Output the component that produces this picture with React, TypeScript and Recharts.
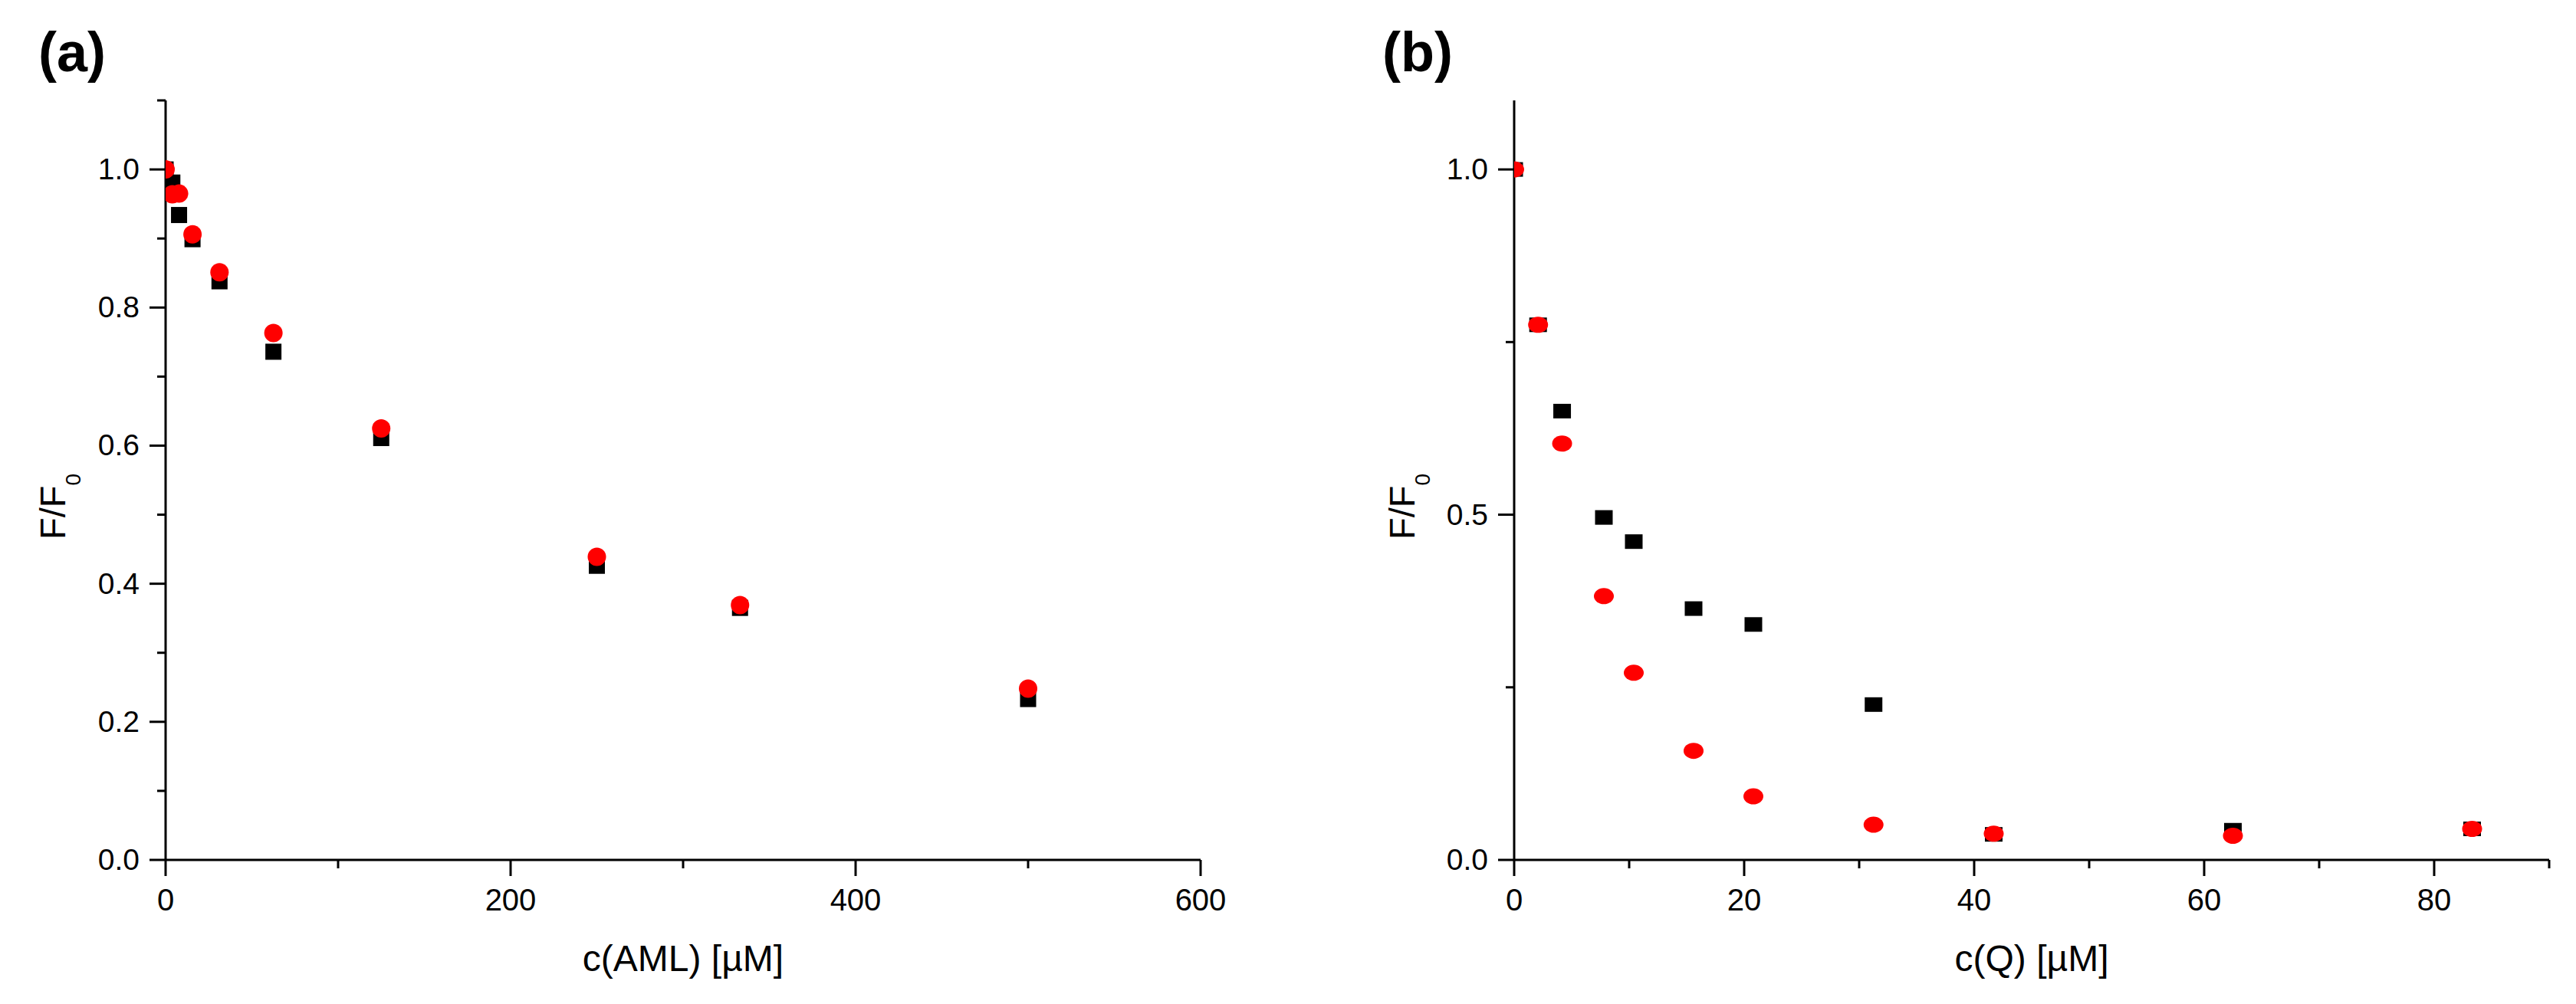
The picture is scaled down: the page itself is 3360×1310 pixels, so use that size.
import { Scatter, ScatterChart, XAxis, YAxis } from 'recharts';

// panel (a): AML titration
const concAML = [0, 3.9, 7.8, 15.6, 31.25, 62.5, 125, 250, 333, 500];
const blackAML = [1.0, 0.981, 0.934, 0.899, 0.838, 0.736, 0.611, 0.426, 0.365, 0.233];
const redAML = [1.0, 0.964, 0.965, 0.906, 0.851, 0.763, 0.625, 0.439, 0.369, 0.248];

// panel (b): Q titration
const concQ = [0, 2.08, 4.17, 7.8, 10.4, 15.6, 20.8, 31.25, 41.7, 62.5, 83.3];
const blackQ = [1.0, 0.775, 0.65, 0.496, 0.461, 0.364, 0.341, 0.225, 0.037, 0.043, 0.045];
const redQ = [1.0, 0.775, 0.603, 0.382, 0.271, 0.158, 0.092, 0.051, 0.038, 0.035, 0.045];

// axis ticks
const xTicksA = [0, 100, 200, 300, 400, 500, 600];
const xMajorA = [0, 200, 400, 600];
const yTicksA = [0, 0.1, 0.2, 0.3, 0.4, 0.5, 0.6, 0.7, 0.8, 0.9, 1.0, 1.1];
const yMajorA = [0, 0.2, 0.4, 0.6, 0.8, 1.0];
const xTicksB = [0, 10, 20, 30, 40, 50, 60, 70, 80, 90];
const xMajorB = [0, 20, 40, 60, 80];
const yTicksB = [0, 0.25, 0.5, 0.75, 1.0];
const yMajorB = [0, 0.5, 1.0];

const FONT = '"Liberation Sans", Arial, sans-serif';

const toPoints = (xs: number[], ys: number[]) => xs.map((x, i) => ({ x, y: ys[i] }));

const makeXTick = (majors: number[]) => (props: any) => {
  const { x, y, payload } = props;
  const major = majors.includes(payload.value);
  return (
    <g>
      <line x1={x} x2={x} y1={y} y2={y + (major ? 21 : 11)} stroke="#000" strokeWidth={3} />
      {major && (
        <text x={x} y={y + 66} textAnchor="middle" fontSize={40} fill="#000" fontFamily={FONT}>
          {payload.value}
        </text>
      )}
    </g>
  );
};

const makeYTick = (majors: number[]) => (props: any) => {
  const { x, y, payload } = props;
  const major = majors.includes(payload.value);
  return (
    <g>
      <line x1={x} x2={x - (major ? 21 : 11)} y1={y} y2={y} stroke="#000" strokeWidth={3} />
      {major && (
        <text x={x - 34} y={y + 13} textAnchor="end" fontSize={39} fill="#000" fontFamily={FONT}>
          {Number(payload.value).toFixed(1)}
        </text>
      )}
    </g>
  );
};

const squareShape = (w: number, h: number) => (props: any) => {
  const { cx, cy } = props;
  return <rect x={cx - w / 2} y={cy - h / 2} width={w} height={h} fill="#000" />;
};

const circleShape = (rx: number, ry: number) => (props: any) => {
  const { cx, cy } = props;
  return <ellipse cx={cx} cy={cy} rx={rx} ry={ry} fill="#ff0000" />;
};

interface PanelProps {
  left: number;
  marginLeft: number;
  marginRight: number;
  xDomain: [number, number];
  xTicks: number[];
  xMajor: number[];
  yTicks: number[];
  yMajor: number[];
  black: { x: number; y: number }[];
  red: { x: number; y: number }[];
  squareW: number;
  squareH: number;
  dotRx: number;
  dotRy: number;
}

function Panel(p: PanelProps) {
  return (
    <div style={{ position: 'absolute', left: p.left, top: 0 }}>
      <ScatterChart
        width={1680}
        height={1310}
        margin={{ top: 131, right: p.marginRight, left: p.marginLeft, bottom: 108 }}
      >
        <XAxis
          type="number"
          dataKey="x"
          domain={p.xDomain}
          ticks={p.xTicks}
          interval={0}
          allowDataOverflow
          height={80}
          tickSize={0}
          tickMargin={0}
          tickLine={false}
          axisLine={{ stroke: '#000', strokeWidth: 3 }}
          tick={makeXTick(p.xMajor)}
        />
        <YAxis
          type="number"
          dataKey="y"
          domain={[0, 1.1]}
          ticks={p.yTicks}
          interval={0}
          allowDataOverflow
          width={100}
          tickSize={0}
          tickMargin={0}
          tickLine={false}
          axisLine={{ stroke: '#000', strokeWidth: 3 }}
          tick={makeYTick(p.yMajor)}
        />
        <Scatter
          name="black"
          data={p.black}
          shape={squareShape(p.squareW, p.squareH)}
          isAnimationActive={false}
        />
        <Scatter
          name="red"
          data={p.red}
          shape={circleShape(p.dotRx, p.dotRy)}
          isAnimationActive={false}
        />
      </ScatterChart>
    </div>
  );
}

export default function App() {
  return (
    <div
      style={{
        position: 'absolute',
        left: 0,
        top: 0,
        width: 3360,
        height: 1310,
        background: '#fff',
        overflow: 'hidden',
      }}
    >
      <Panel
        left={0}
        marginLeft={116}
        marginRight={114}
        xDomain={[0, 600]}
        xTicks={xTicksA}
        xMajor={xMajorA}
        yTicks={yTicksA}
        yMajor={yMajorA}
        black={toPoints(concAML, blackAML)}
        red={toPoints(concAML, redAML)}
        squareW={21}
        squareH={21}
        dotRx={12}
        dotRy={12}
      />
      <Panel
        left={1680}
        marginLeft={195}
        marginRight={35}
        xDomain={[0, 90]}
        xTicks={xTicksB}
        xMajor={xMajorB}
        yTicks={yTicksB}
        yMajor={yMajorB}
        black={toPoints(concQ, blackQ)}
        red={toPoints(concQ, redQ)}
        squareW={23}
        squareH={19}
        dotRx={13}
        dotRy={10.5}
      />
      {/* panel letters and axis titles */}
      <svg
        width={3360}
        height={1310}
        style={{ position: 'absolute', left: 0, top: 0, pointerEvents: 'none' }}
        fontFamily={FONT}
      >
        <text x={50} y={93} fontSize={72} fontWeight="bold" fill="#000">(a)</text>
        <text x={1803} y={93} fontSize={72} fontWeight="bold" fill="#000">(b)</text>
        <text x={891} y={1267} fontSize={48} textAnchor="middle" fill="#000">c(AML) [µM]</text>
        <text x={2650} y={1267} fontSize={48} textAnchor="middle" fill="#000">c(Q) [µM]</text>
        <text transform="translate(85,661) rotate(-90)" fontSize={47} textAnchor="middle" fill="#000">
          F/F<tspan dy={20} fontSize={28}>0</tspan>
        </text>
        <text transform="translate(1845,661) rotate(-90)" fontSize={47} textAnchor="middle" fill="#000">
          F/F<tspan dy={20} fontSize={28}>0</tspan>
        </text>
      </svg>
    </div>
  );
}
